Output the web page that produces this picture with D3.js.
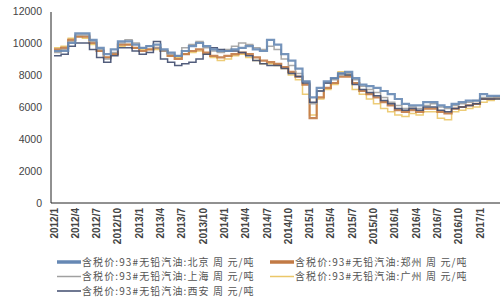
<!DOCTYPE html>
<html>
<head>
<meta charset="utf-8">
<script src="https://cdn.jsdelivr.net/npm/d3@7"></script>
<style>
  body { margin: 0; background: #fff; }
  svg { font-family: "Noto Sans CJK SC", "Liberation Sans", sans-serif; }
</style>
</head>
<body>
<svg id="chart" width="500" height="300"></svg>
<script>
// tick labels every 3 months, month index 0 = 2012/1
const tickLabels = ["2012/1","2012/4","2012/7","2012/10","2013/1","2013/4","2013/7","2013/10",
  "2014/1","2014/4","2014/7","2014/10","2015/1","2015/4","2015/7","2015/10",
  "2016/1","2016/4","2016/7","2016/10","2017/1"]
const yTicks = [0, 2000, 4000, 6000, 8000, 10000, 12000]

// monthly prices, 2012/1 .. 2017/3
const beijing = [9500,9500,10000,10600,10600,10200,9700,9300,9600,10100,10100,9900,
  9700,9800,9900,9600,9400,9200,9500,9800,10000,9800,9600,9500,
  9500,9600,9700,9800,9600,9500,10200,9900,9300,8900,8400,7600,
  6600,7200,7600,7800,8100,8200,7800,7400,7300,7200,7000,6800,
  6500,6200,6100,6100,6300,6300,6100,6000,6200,6300,6400,6400,
  6800,6700,6700]
const zhengzhou = [9600,9700,10200,10400,10400,10000,9500,9100,9300,9900,9900,9700,
  9500,9600,9700,9500,9200,9000,9300,9500,9600,9400,9200,9100,
  9200,9300,9400,9300,9100,8900,8800,8700,8500,8200,7900,7400,
  5300,6600,7200,7500,7900,7900,7500,7000,6800,6600,6300,6100,
  5800,5700,5800,5700,5900,5900,5700,5600,5900,6000,6100,6200,
  6500,6500,6600]
const shanghai = [9400,9600,10100,10500,10500,10100,9600,9000,9400,10000,10200,10000,
  9700,9800,9700,9500,9300,9200,9700,9900,10100,9700,9500,9400,
  9600,9800,10000,9900,9700,9600,9800,9600,9000,8600,8100,7600,
  6200,7000,7500,7700,8000,8100,7700,7300,7100,6900,6600,6300,
  6100,5900,6000,5900,6100,6200,6000,5900,6100,6200,6300,6400,
  6600,6600,6600]
const guangzhou = [9700,9800,10300,10400,10300,9900,9500,9100,9300,9800,9900,9700,
  9600,9600,9600,9500,9200,9100,9300,9400,9500,9300,9100,8900,
  9000,9200,9300,9100,8900,8700,8700,8600,8400,8000,7700,6800,
  5500,6500,7100,7400,8200,8000,7100,6800,6500,6200,5900,5700,
  5500,5400,5600,5500,5700,5700,5300,5200,5700,5800,5900,6000,
  6300,6400,6500]
const xian = [9200,9300,9800,10000,10000,9600,9100,8800,9200,9700,9700,9500,
  9300,9400,10100,9000,8800,8600,8700,8800,9000,9300,9700,9600,
  9500,9500,9400,9200,8900,8700,8600,8600,8400,8100,7900,7500,
  6300,7000,7500,7800,8100,8000,7400,7100,6900,6700,6400,6200,
  5900,5800,5900,5800,6000,6000,5800,5700,5900,6000,6100,6200,
  6500,6500,6500]

const seriesNames = ["含税价:93#无铅汽油:北京 周 元/吨","含税价:93#无铅汽油:郑州 周 元/吨",
  "含税价:93#无铅汽油:上海 周 元/吨","含税价:93#无铅汽油:广州 周 元/吨",
  "含税价:93#无铅汽油:西安 周 元/吨"]
const seriesData = [beijing, zhengzhou, shanghai, guangzhou, xian]
const colors = ["#6688b4", "#c27a45", "#a0a0a0", "#ebc768", "#3f4b6e"]
const widths = [2.2, 2.2, 1.5, 1.5, 1.5]
const drawOrder = [3, 1, 2, 4, 0]

const svg = d3.select("#chart")

const x = d3.scaleLinear().domain([0, 60]).range([54, 480])
const y = d3.scaleLinear().domain([0, 12000]).range([203, 11])

// y axis labels
svg.append("g")
  .selectAll("text")
  .data(yTicks).enter()
  .append("text")
  .attr("x", 42)
  .attr("y", d => y(d) + 4)
  .attr("text-anchor", "end")
  .attr("font-size", 10.5)
  .attr("fill", "#444")
  .attr("font-family", "Liberation Sans, sans-serif")
  .text(d => d)

// axis lines
svg.append("line")
  .attr("x1", 51).attr("x2", 51).attr("y1", 12).attr("y2", y(0))
  .attr("stroke", "#222").attr("stroke-width", 1)
svg.append("line")
  .attr("x1", 51).attr("x2", 500).attr("y1", y(0)).attr("y2", y(0))
  .attr("stroke", "#222").attr("stroke-width", 1)

// x labels, rotated
svg.append("g")
  .selectAll("text")
  .data(tickLabels).enter()
  .append("text")
  .attr("transform", (d, i) => `translate(${x(i * 3) + 3.5}, 208) rotate(-90)`)
  .attr("text-anchor", "end")
  .attr("font-size", 10)
  .attr("font-weight", "bold")
  .attr("fill", "#444")
  .attr("font-family", "Liberation Sans, sans-serif")
  .text(d => d)

// lines
const line_gen = d3.line()
  .x((d, i) => x(i))
  .y(d => y(d))
  .curve(d3.curveStepAfter)

svg.append("g")
  .selectAll("path")
  .data(drawOrder).enter()
  .append("path")
  .attr("d", k => line_gen(seriesData[k].concat([seriesData[k][seriesData[k].length - 1]])))
  .attr("fill", "none")
  .attr("stroke", k => colors[k])
  .attr("stroke-width", k => widths[k])
  .attr("opacity", 0.9)

// legend: left column 北京/上海/西安, right column 郑州/广州
const legendPos = [[57, 262], [270, 262], [57, 276.5], [270, 276.5], [57, 291]]
const legend = svg.append("g")
  .selectAll("g")
  .data(seriesNames).enter()
  .append("g")
  .attr("transform", (d, i) => `translate(${legendPos[i][0]}, ${legendPos[i][1]})`)
legend.append("line")
  .attr("x1", 0).attr("x2", 24).attr("y1", 0).attr("y2", 0)
  .attr("stroke", (d, i) => colors[i])
  .attr("stroke-width", (d, i) => widths[i] > 2 ? 3.5 : 1.5)
legend.append("text")
  .attr("x", 25)
  .attr("y", 3.5)
  .attr("font-size", 10)
  .attr("letter-spacing", 1.1)
  .attr("fill", "#555")
  .text(d => d)
</script>
</body>
</html>
